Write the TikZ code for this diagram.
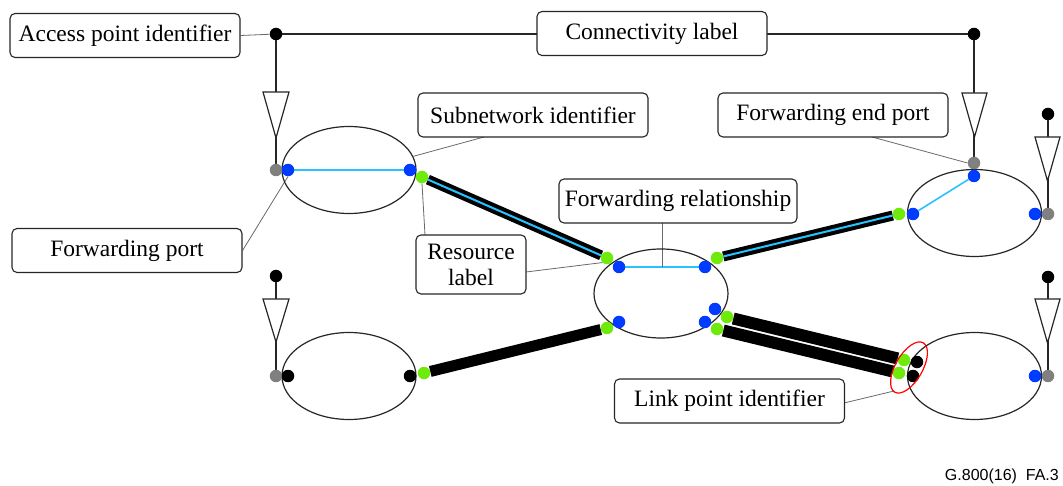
\documentclass[tikz,border=0pt]{standalone}
\usepackage{fontspec}
\setmainfont{Liberation Serif}
\newfontfamily\figsans{Liberation Sans}
\usetikzlibrary{shapes.geometric,calc}
\definecolor{dblue}{RGB}{0,60,255}
\definecolor{dgreen}{RGB}{110,235,10}
\definecolor{lcyan}{RGB}{40,195,255}
\definecolor{dgray}{RGB}{128,128,128}
\definecolor{lgray}{RGB}{105,105,105}
\pgfdeclarelayer{bg}
\pgfsetlayers{bg,main}
\begin{document}
\begin{tikzpicture}[x=1pt,y=-1pt,
  box/.style={draw=black!85, line width=1.1pt, rounded corners=5pt, fill=white,
    minimum width=230pt, minimum height=44pt, inner sep=2pt,
    font=\fontsize{23.5}{26}\selectfont, align=center},
  subnet/.style={ellipse, draw=black!85, line width=1.2pt, minimum width=134pt,
    minimum height=87pt, inner sep=0pt},
  dot/.style={circle, inner sep=0pt, minimum size=12.5pt},
  bdot/.style={dot, fill=dblue},
  gdot/.style={dot, fill=dgreen},
  kdot/.style={dot, fill=black},
  ydot/.style={dot, fill=dgray},
  wire/.style={draw=black!85, line width=1.3pt},
  lead/.style={draw=lgray, line width=0.8pt},
  tri/.style={draw=black!85, line width=1.2pt, fill=white, line join=miter},
  trunk/.style={draw=black, line width=10pt},
  fattrunk/.style={draw=black, line width=12pt},
  fwd/.style={draw=lcyan, line width=2pt},
  xconn/.style={draw=lcyan, line width=1.6pt}]
\useasboundingbox (0,0) rectangle (1063,486);

% subnetworks
\node[subnet] (s1) at (349,170) {};
\node[subnet, minimum height=89pt] (s2) at (661,293.5) {};
\node[subnet] (s3) at (974.5,213) {};
\node[subnet] (s4) at (349,376) {};
\node[subnet] (s5) at (974.5,376) {};

% access point dots
\node[kdot] (k1) at (276,34) {};
\node[kdot] (k2) at (974,34) {};
\node[kdot] (k3) at (1048,114) {};
\node[kdot] (k4) at (276,276) {};
\node[kdot] (k5) at (1048,277) {};
\node[ydot] (y1) at (276,170) {};
\node[ydot] (y2) at (974,163) {};
\node[ydot] (y3) at (1048,214) {};
\node[ydot] (y4) at (276,376) {};
\node[ydot] (y5) at (1048,376) {};

% subnetwork 1
\node[bdot] (b11) at (288,170) {};
\node[bdot] (b12) at (410,170) {};
\node[gdot] (g11) at (422,177) {};
% subnetwork 2
\node[bdot] (b21) at (619,267) {};
\node[bdot] (b22) at (705,267) {};
\node[bdot] (b23) at (619,322) {};
\node[bdot] (b24) at (705,322) {};
\node[bdot] (b25) at (715,309) {};
\node[gdot] (g21) at (607,258) {};
\node[gdot] (g22) at (717,258) {};
\node[gdot] (g23) at (607,328) {};
\node[gdot] (g24) at (727,317) {};
\node[gdot] (g25) at (717,329) {};
% subnetwork 3
\node[bdot] (b31) at (913,214) {};
\node[bdot] (b32) at (974,176) {};
\node[bdot] (b33) at (1035,214) {};
\node[gdot] (g31) at (899,214) {};
% subnetwork 4
\node[kdot] (k41) at (288,376) {};
\node[kdot] (k42) at (410,376) {};
\node[gdot] (g41) at (424,373) {};
% subnetwork 5
\node[kdot] (k51) at (917,362) {};
\node[kdot] (k52) at (913,376) {};
\node[gdot] (g51) at (904,360) {};
\node[gdot] (g52) at (899,373) {};
\node[bdot] (b51) at (1035,376) {};

% link point identifier ring
\node[ellipse, draw=red, line width=1.2pt, minimum width=27pt, minimum height=57pt,
  inner sep=0pt, rotate=-30] (lp) at (909,367.5) {};

% label boxes
\node[box] (apbox) at (125,35.5) {Access point identifier};
\node[box] (clbox) at (652,33.5) {Connectivity label};
\node[box] (snbox) at (533,115) {Subnetwork identifier};
\node[box] (fpbox) at (127,250.5) {Forwarding port};
\node[box, minimum width=110pt, minimum height=59pt] (rlbox) at (471,264.5) {Resource\\label};
\node[box, minimum width=238pt] (frbox) at (678,201) {Forwarding relationship};
\node[box] (fepbox) at (833,115) {Forwarding end port};
\node[box] (lpbox) at (729.5,401) {Link point identifier};

% leader end points
\coordinate (snl) at (484,137);
\coordinate (rl1) at (425,235);
\coordinate (rl2) at (526,272);
\coordinate (fr1) at (662,223);
\coordinate (fr2) at (662,267);
\coordinate (fel) at (872,137);
\coordinate (lpl) at (844,403);
\coordinate (lpe) at (894,391);

\begin{pgfonlayer}{bg}
  % connectivity and access wires
  \draw[wire] (k1) -- (k2);
  \draw[wire] (k1) -- (y1);
  \draw[wire] (k2) -- (y2);
  \draw[wire] (k3) -- (y3);
  \draw[wire] (k4) -- (y4);
  \draw[wire] (k5) -- (y5);
  % links
  \draw[trunk] (g11) -- (g21);
  \draw[fwd] (g11) -- (g21);
  \draw[trunk] (g22) -- (g31);
  \draw[fwd] (g22) -- (g31);
  \draw[fattrunk, line width=11pt] (g41) -- (g23);
  \draw[fattrunk] (g24) -- (g51);
  \draw[fattrunk] (g25) -- (g52);
  % forwarding inside subnetworks
  \draw[xconn] (b11) -- (b12);
  \draw[xconn] (b21) -- (b22);
  \draw[xconn] (b31) -- (b32);
  % leaders
  \draw[lead] (apbox.east) -- (k1);
  \draw[lead] (snl) -- (s1.12);
  \draw[lead] (fpbox.east) -- (b11.south);
  \draw[lead] (rl1) -- (g11.south);
  \draw[lead] (rl2) -- (g21.south west);
  \draw[lead] (fr1) -- (fr2);
  \draw[lead] (fel) -- (y2.west);
  \draw[lead] (lpl) -- (lpe);
\end{pgfonlayer}

% triangles (adaptation symbols)
\draw[tri] (263,92) -- (289,92) -- (276,138) -- cycle;
\draw[tri] (962,93) -- (987,93) -- (974.5,137) -- cycle;
\draw[tri] (1035,137) -- (1060,137) -- (1047.5,181) -- cycle;
\draw[tri] (263,299) -- (289,299) -- (276,342) -- cycle;
\draw[tri] (1035,299) -- (1060,299) -- (1047.5,343) -- cycle;

\node[anchor=east, inner sep=0pt, font=\figsans\fontsize{16}{18}\selectfont] (fig) at (1059,476) {G.800(16)\ \ FA.3};
\end{tikzpicture}
\end{document}
